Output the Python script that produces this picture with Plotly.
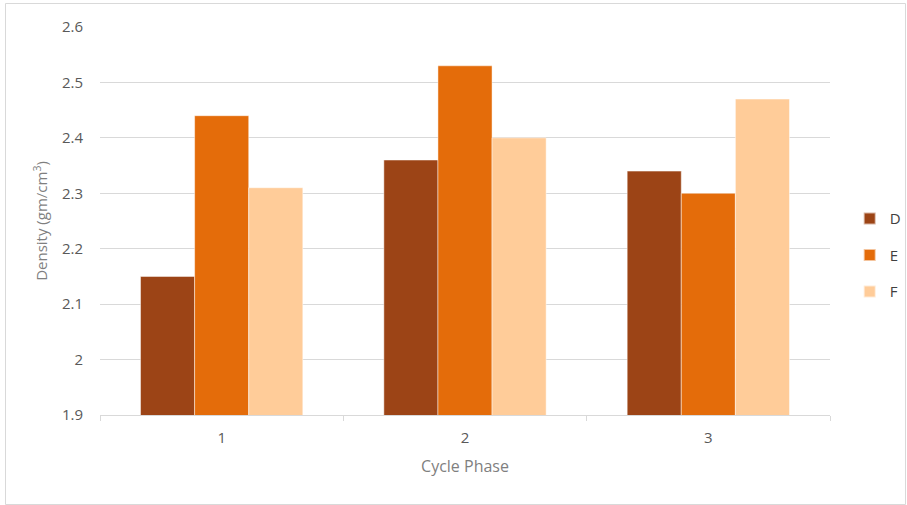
import plotly.graph_objects as go

# Density by cycle phase for three mixes
phases = ["1", "2", "3"]
series_names = ["D", "E", "F"]
density_d = [2.15, 2.36, 2.34]
density_e = [2.44, 2.53, 2.30]
density_f = [2.31, 2.40, 2.47]
y_ticks = [1.9, 2.0, 2.1, 2.2, 2.3, 2.4, 2.5, 2.6]

colors = ["#9C4416", "#E46C0A", "#FFCC99"]
values = [density_d, density_e, density_f]

fig = go.Figure()
for name, vals, col in zip(series_names, values, colors):
    fig.add_trace(go.Bar(
        x=phases, y=vals, name=name, legendgroup=name,
        marker=dict(color=col, line=dict(color="rgba(255,255,255,0.6)", width=0.8)),
    ))

FONT = "Open Sans"
W, H = 907, 505
L, R, T, B = 100, 77, 27, 90

fig.update_layout(
    width=W, height=H,
    margin=dict(l=L, r=R, t=T, b=B, autoexpand=False),
    paper_bgcolor="white", plot_bgcolor="white",
    barmode="group", bargap=0.333, bargroupgap=0,
    font=dict(family=FONT, color="#595959", size=15),
    showlegend=True,
    legend=dict(
        x=1.027, y=0.412, xanchor="left", yanchor="middle",
        font=dict(family=FONT, size=15, color="#404040"),
        itemsizing="constant", tracegroupgap=14,
        bgcolor="rgba(0,0,0,0)", itemwidth=30,
    ),
    xaxis=dict(
        type="category",
        showgrid=False,
        showline=True, linecolor="#d9d9d9", linewidth=1,
        ticks="outside", ticklen=5, tickcolor="#d9d9d9", tickson="boundaries",
        ticklabelstandoff=9,
        tickfont=dict(size=15, color="#595959"),
        title=dict(text="Cycle Phase", font=dict(size=16, color="#7f7f7f"), standoff=14),
    ),
    yaxis=dict(
        range=[1.9, 2.6],
        tickmode="array", tickvals=y_ticks,
        ticktext=[f"{v:g}" for v in y_ticks],
        showgrid=True, gridcolor="#d9d9d9", gridwidth=1,
        zeroline=False, showline=False,
        ticklabelstandoff=16,
        tickfont=dict(size=15, color="#595959"),
        title=dict(text="Density (gm/cm<sup>3</sup>)", font=dict(size=15, color="#7f7f7f"), standoff=10),
    ),
    shapes=[dict(
        type="rect", xref="paper", yref="paper",
        x0=(5.5 - L) / (W - L - R), x1=(905.5 - L) / (W - L - R),
        y0=(H - B - 504.5) / (H - T - B), y1=(H - B - 3.5) / (H - T - B),
        line=dict(color="#d9d9d9", width=1), fillcolor="rgba(0,0,0,0)", layer="below",
    )],
)

fig.write_html("out.html")
